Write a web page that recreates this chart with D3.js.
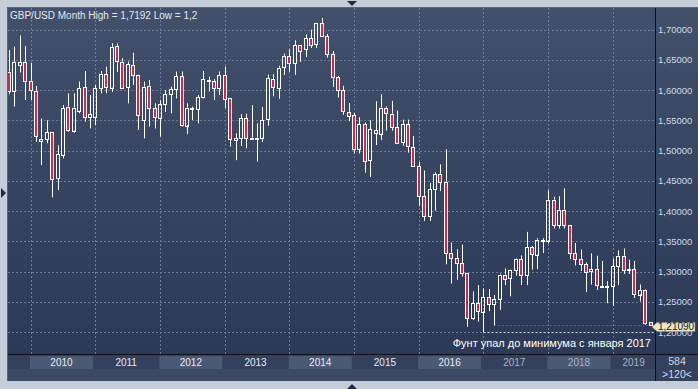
<!DOCTYPE html>
<html>
<head>
<meta charset="utf-8">
<title>GBP/USD Month</title>
<script src="https://d3js.org/d3.v7.min.js"></script>
<style>
  body { margin: 0; background: #c5cdd9; }
  svg { display: block; font-family: "Liberation Sans", Arial, sans-serif; }
</style>
</head>
<body>
<div id="chart"></div>
<script>
// monthly candles, Sep 2009 .. Aug 2019
var months = [
  "2009-09","2009-10","2009-11","2009-12",
  "2010-01","2010-02","2010-03","2010-04","2010-05","2010-06","2010-07","2010-08","2010-09","2010-10","2010-11","2010-12",
  "2011-01","2011-02","2011-03","2011-04","2011-05","2011-06","2011-07","2011-08","2011-09","2011-10","2011-11","2011-12",
  "2012-01","2012-02","2012-03","2012-04","2012-05","2012-06","2012-07","2012-08","2012-09","2012-10","2012-11","2012-12",
  "2013-01","2013-02","2013-03","2013-04","2013-05","2013-06","2013-07","2013-08","2013-09","2013-10","2013-11","2013-12",
  "2014-01","2014-02","2014-03","2014-04","2014-05","2014-06","2014-07","2014-08","2014-09","2014-10","2014-11","2014-12",
  "2015-01","2015-02","2015-03","2015-04","2015-05","2015-06","2015-07","2015-08","2015-09","2015-10","2015-11","2015-12",
  "2016-01","2016-02","2016-03","2016-04","2016-05","2016-06","2016-07","2016-08","2016-09","2016-10","2016-11","2016-12",
  "2017-01","2017-02","2017-03","2017-04","2017-05","2017-06","2017-07","2017-08","2017-09","2017-10","2017-11","2017-12",
  "2018-01","2018-02","2018-03","2018-04","2018-05","2018-06","2018-07","2018-08","2018-09","2018-10","2018-11","2018-12",
  "2019-01","2019-02","2019-03","2019-04","2019-05","2019-06","2019-07","2019-08"
];

var open = [
  1.6305,1.5985,1.6415,1.6465,
  1.6155,1.5990,1.5150,1.5185,1.5310,1.4540,1.4925,1.5725,1.5330,1.5645,1.6045,1.5550,
  1.5550,1.6030,1.6260,1.6040,1.6725,1.6470,1.6045,1.6415,1.6250,1.5505,1.6070,1.5700,
  1.5530,1.5765,1.5930,1.6015,1.6230,1.5420,1.5685,1.5685,1.5880,1.6155,1.6150,1.6030,
  1.6250,1.5860,1.5175,1.5200,1.5530,1.5195,1.5205,1.5212,1.5510,1.6180,1.6035,1.6370,
  1.6560,1.6440,1.6750,1.6670,1.6860,1.6750,1.7105,1.6885,1.6590,1.6215,1.5995,1.5640,
  1.5580,1.5030,1.5435,1.4830,1.5290,1.5280,1.5710,1.5610,1.5390,1.5125,1.5430,1.5060,
  1.4740,1.4250,1.3915,1.4365,1.4615,1.4485,1.3310,1.3225,1.3135,1.2970,1.2230,1.2475,
  1.2340,1.2580,1.2460,1.2550,1.2950,1.2890,1.3025,1.3200,1.2930,1.3400,1.3280,1.3510,
  1.3515,1.4185,1.3770,1.4020,1.3765,1.3300,1.3205,1.3125,1.2995,1.3035,1.2755,1.2755,
  1.2755,1.3090,1.3260,1.3030,1.3035,1.2625,1.2700,1.2160
];
var high = [
  1.6660,1.6716,1.6900,1.6725,
  1.6450,1.6065,1.5530,1.5500,1.5310,1.5090,1.5750,1.5945,1.5945,1.6140,1.6315,1.5915,
  1.6085,1.6315,1.6385,1.6770,1.6770,1.6525,1.6470,1.6615,1.6255,1.6140,1.6165,1.5780,
  1.5835,1.6000,1.6055,1.6305,1.6305,1.5780,1.5725,1.5915,1.6315,1.6220,1.6180,1.6305,
  1.6385,1.5870,1.5285,1.5600,1.5610,1.5750,1.5450,1.5720,1.6255,1.6260,1.6400,1.6600,
  1.6670,1.6820,1.6750,1.6920,1.6995,1.7110,1.7192,1.6925,1.6645,1.6230,1.6070,1.5785,
  1.5620,1.5550,1.5460,1.5500,1.5815,1.5930,1.5730,1.5820,1.5660,1.5510,1.5510,1.5240,
  1.4815,1.4670,1.4460,1.4640,1.4770,1.5020,1.3480,1.3370,1.3445,1.2975,1.2670,1.2775,
  1.2720,1.2710,1.2615,1.2965,1.3050,1.3030,1.3215,1.3265,1.3655,1.3420,1.3550,1.3550,
  1.4345,1.4235,1.4245,1.4375,1.3765,1.3470,1.3365,1.3150,1.3300,1.3260,1.3175,1.2840,
  1.3215,1.3350,1.3380,1.3195,1.3175,1.2785,1.2710,1.2165
];
var low = [
  1.5930,1.5725,1.6290,1.5835,
  1.5835,1.5145,1.4760,1.5120,1.4225,1.4345,1.4870,1.5310,1.5295,1.5615,1.5475,1.5365,
  1.5420,1.5945,1.5945,1.5970,1.6300,1.6030,1.5780,1.6085,1.5340,1.5200,1.5395,1.5365,
  1.5230,1.5640,1.5615,1.5860,1.5395,1.5270,1.5505,1.5450,1.5860,1.5975,1.5835,1.5915,
  1.5700,1.5065,1.4840,1.5075,1.5035,1.5175,1.4815,1.5140,1.5410,1.5895,1.5855,1.6250,
  1.6300,1.6250,1.6465,1.6545,1.6695,1.6695,1.6880,1.6535,1.6050,1.5875,1.5590,1.5485,
  1.4950,1.4950,1.4635,1.4565,1.5090,1.5170,1.5330,1.5330,1.5105,1.5080,1.4965,1.4735,
  1.4080,1.3835,1.3835,1.4005,1.4330,1.3120,1.2800,1.2865,1.2915,1.2085,1.2200,1.2170,
  1.2000,1.2345,1.2109,1.2365,1.2775,1.2590,1.2930,1.2775,1.2775,1.3030,1.3040,1.3305,
  1.3460,1.3710,1.3710,1.3710,1.3205,1.3100,1.3010,1.2660,1.2785,1.2695,1.2725,1.2475,
  1.2430,1.2775,1.2960,1.2960,1.2560,1.2505,1.2120,1.2105
];
var close = [
  1.5985,1.6460,1.6465,1.6155,
  1.6000,1.5240,1.5190,1.5300,1.4540,1.4940,1.5695,1.5340,1.5710,1.6030,1.5550,1.5600,
  1.6030,1.6260,1.6040,1.6715,1.6470,1.6040,1.6425,1.6250,1.5590,1.6055,1.5700,1.5550,
  1.5765,1.5930,1.6015,1.6230,1.5420,1.5710,1.5695,1.5880,1.6175,1.6165,1.6030,1.6250,
  1.5860,1.5175,1.5210,1.5530,1.5200,1.5212,1.5212,1.5505,1.6195,1.6040,1.6370,1.6560,
  1.6440,1.6745,1.6650,1.6860,1.6750,1.7105,1.6885,1.6580,1.6215,1.5995,1.5640,1.5580,
  1.5025,1.5435,1.4830,1.5350,1.5335,1.5710,1.5620,1.5390,1.5125,1.5430,1.5060,1.4740,
  1.4250,1.3915,1.4365,1.4615,1.4485,1.3310,1.3225,1.3135,1.2970,1.2230,1.2475,1.2340,
  1.2580,1.2460,1.2540,1.2950,1.2890,1.3025,1.3200,1.2930,1.3400,1.3280,1.3525,1.3515,
  1.4185,1.3770,1.4020,1.3765,1.3300,1.3205,1.3125,1.2995,1.3035,1.2765,1.2760,1.2760,
  1.3090,1.3260,1.3030,1.3035,1.2625,1.2700,1.2160,1.2109
];

var yTicks = [1.20, 1.25, 1.30, 1.35, 1.40, 1.45, 1.50, 1.55, 1.60, 1.65, 1.70];
var years = ["2010","2011","2012","2013","2014","2015","2016","2017","2018","2019"];
var title = "GBP/USD Month High = 1,7192 Low = 1,2";
var note = "Фунт упал до минимума с января 2017";
var lastPrice = 1.2109, lowSince = "2017-03", lowMark = 1.2000, lowMonth = "2017-01";

var W = 698, H = 389;
var plot = {left: 8, top: 8, right: 655, bottom: 354};
var comma = function(v, n) { return v.toFixed(n).replace(".", ","); };

var svg = d3.select("#chart").append("svg")
  .attr("width", W).attr("height", H);

var defs = svg.append("defs");
var grad = defs.append("linearGradient").attr("id", "bg")
  .attr("x1", 0).attr("y1", 0).attr("x2", 0).attr("y2", 1);
grad.append("stop").attr("offset", "0%").attr("stop-color", "#43506b");
grad.append("stop").attr("offset", "100%").attr("stop-color", "#2c3957");
defs.append("clipPath").attr("id", "clip").append("rect")
  .attr("x", plot.left).attr("y", plot.top)
  .attr("width", plot.right - plot.left).attr("height", plot.bottom - plot.top);

// outer frame
svg.append("rect").attr("width", W).attr("height", H).attr("fill", "#c5cdd9");
svg.append("rect").attr("x", plot.left - 1).attr("y", plot.top - 1)
  .attr("width", W - plot.left + 1).attr("height", 381 - plot.top + 1)
  .attr("fill", "#5b6680");
svg.append("rect").attr("x", plot.left).attr("y", plot.top)
  .attr("width", W - plot.left).attr("height", plot.bottom - plot.top)
  .attr("fill", "url(#bg)");

// scales
var x = d3.scalePoint().domain(months).range([9.1, 650.6]);
var y = d3.scaleLinear().domain([1.20, 1.70]).range([332, 29.5]);

// grid
var grid = svg.append("g").attr("stroke", "#6d7b97").attr("stroke-dasharray", "2,2")
  .attr("stroke-width", 1).attr("shape-rendering", "crispEdges");
grid.selectAll(".h").data(yTicks).enter().append("line")
  .attr("x1", plot.left).attr("x2", plot.right)
  .attr("y1", function(d) { return Math.round(y(d)) + 0.5; })
  .attr("y2", function(d) { return Math.round(y(d)) + 0.5; });
grid.selectAll(".v").data(years).enter().append("line")
  .attr("x1", function(d) { return Math.round(x(d + "-01")) + 0.5; })
  .attr("x2", function(d) { return Math.round(x(d + "-01")) + 0.5; })
  .attr("y1", plot.top).attr("y2", plot.bottom);

// x axis band
svg.append("rect").attr("x", plot.left).attr("y", plot.bottom)
  .attr("width", W - plot.left).attr("height", 381 - plot.bottom).attr("fill", "#34405d");
svg.append("rect").attr("x", plot.left).attr("y", 369)
  .attr("width", plot.right - plot.left).attr("height", 12).attr("fill", "#3b4866");
var yr = svg.append("g");
years.forEach(function(d, i) {
  var x0 = x(d + "-01") - 0.7;
  var x1 = Math.min(x0 + 63, plot.right);
  if (i % 2 == 0) {
    yr.append("rect").attr("x", x0).attr("y", 356).attr("width", x1 - x0).attr("height", 13)
      .attr("fill", "#4b5876");
  }
  yr.append("text").attr("x", (x0 + x1) / 2).attr("y", 366)
    .attr("text-anchor", "middle").attr("font-size", "10px")
    .attr("fill", i >= 7 ? "#aab3c4" : "#e8ecf2").text(d);
});

// right axis panel
svg.append("rect").attr("x", plot.right).attr("y", plot.top)
  .attr("width", W - plot.right).attr("height", plot.bottom - plot.top).attr("fill", "url(#bg)");
svg.append("g").selectAll("text").data(yTicks).enter().append("text")
  .attr("x", 658).attr("y", function(d) { return y(d) + 3.5; })
  .attr("font-size", "9.5px").attr("fill", "#d3d9e3")
  .text(function(d) { return comma(d, 5); });
svg.append("text").attr("x", 677).attr("y", 365).attr("text-anchor", "middle")
  .attr("font-size", "10.5px").attr("fill", "#d3d9e3").text("584");
svg.append("text").attr("x", 677).attr("y", 378).attr("text-anchor", "middle")
  .attr("font-size", "10.5px").attr("fill", "#d3d9e3").text(">120<");

// separators
svg.append("line").attr("x1", plot.right + 0.5).attr("x2", plot.right + 0.5)
  .attr("y1", plot.top).attr("y2", 381).attr("stroke", "#0c0f18");
svg.append("line").attr("x1", plot.left).attr("x2", W)
  .attr("y1", plot.bottom + 0.5).attr("y2", plot.bottom + 0.5).attr("stroke", "#0c0f18");

// low markers
var marks = svg.append("g").attr("clip-path", "url(#clip)");
marks.append("line").attr("x1", x(lowMonth)).attr("x2", plot.right)
  .attr("y1", Math.round(y(lowMark)) + 0.5).attr("y2", Math.round(y(lowMark)) + 0.5)
  .attr("stroke", "#c9d0dc").attr("stroke-dasharray", "2,2");
marks.append("line").attr("x1", x(lowSince)).attr("x2", plot.right)
  .attr("y1", Math.round(y(lastPrice)) + 0.5).attr("y2", Math.round(y(lastPrice)) + 0.5)
  .attr("stroke", "#c8304e").attr("stroke-dasharray", "2,2");

// candles
var data = months.map(function(m, i) {
  return {m: m, o: open[i], h: high[i], l: low[i], c: close[i]};
});
var cx = function(d) { return Math.round(x(d.m)); };
var candles = svg.append("g").attr("clip-path", "url(#clip)");
var g = candles.selectAll("g").data(data).enter().append("g");
g.append("line")
  .attr("x1", function(d) { return cx(d) + 0.5; })
  .attr("x2", function(d) { return cx(d) + 0.5; })
  .attr("y1", function(d) { return y(d.h); })
  .attr("y2", function(d) { return y(Math.max(d.o, d.c)); })
  .attr("stroke", "#ffffff");
g.append("line")
  .attr("x1", function(d) { return cx(d) + 0.5; })
  .attr("x2", function(d) { return cx(d) + 0.5; })
  .attr("y1", function(d) { return y(Math.min(d.o, d.c)); })
  .attr("y2", function(d) { return y(d.l); })
  .attr("stroke", "#ffffff");
g.append("rect")
  .attr("x", function(d) { return cx(d) - 1.5; })
  .attr("width", 3)
  .attr("y", function(d) { return Math.round(y(Math.max(d.o, d.c))) + 0.5; })
  .attr("height", function(d) { return Math.max(1, Math.round(y(Math.min(d.o, d.c)) - y(Math.max(d.o, d.c)))); })
  .attr("fill", function(d) { return d.c < d.o ? "#cc2a4c" : "none"; })
  .attr("stroke", "#ffffff").attr("stroke-width", 1);

// texts
svg.append("text").attr("x", 10).attr("y", 18.5).attr("font-size", "10px")
  .attr("fill", "#e3e8ef").text(title);
svg.append("text").attr("x", 651).attr("y", 347).attr("text-anchor", "end")
  .attr("font-size", "11px").attr("fill", "#ffffff").text(note);

// last price label
var py = y(lastPrice);
svg.append("path")
  .attr("d", "M652," + (py + 1.5) + "L657," + (py - 3) + "L695," + (py - 3) + "L695," + (py + 6) + "L657," + (py + 6) + "Z")
  .attr("fill", "#e9e6cb").attr("stroke", "#8a8a78").attr("stroke-width", 0.5);
svg.append("text").attr("x", 658).attr("y", py + 5).attr("font-size", "10px")
  .attr("fill", "#1a1a1a").text(comma(lastPrice, 5));

// frame arrows
var arrows = svg.append("g").attr("fill", "#1f2a42");
arrows.append("path").attr("d", "M347,1L357,1L352,6Z");
arrows.append("path").attr("d", "M347,389L357,389L352,384Z");
arrows.append("path").attr("d", "M1,188L1,198L6,193Z");
</script>
</body>
</html>
